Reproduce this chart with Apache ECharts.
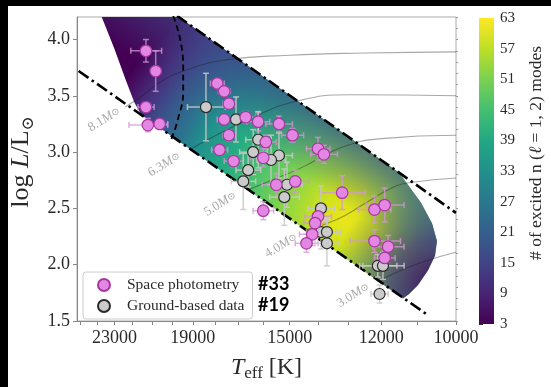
<!DOCTYPE html>
<html>
<head>
<meta charset="utf-8">
<script src="https://cdn.jsdelivr.net/npm/echarts@6/dist/echarts.min.js"></script>
<style>
html, body { margin: 0; padding: 0; background: #fff; }
#chart { width: 551px; height: 387px; }
</style>
</head>
<body>
<div id="chart"></div>
<script>
// rows: Teff [K], log L, err Teff [K], err log L
const spacePhot = [
  [21300, 3.90, 800, 0.10], [20800, 3.72, 250, 0.18], [21300, 3.40, 420, 0.03],
  [21200, 3.24, 1000, 0.06], [20600, 3.25, 400, 0.04], [17900, 3.61, 300, 0.04],
  [17600, 3.54, 250, 0.03], [17400, 3.43, 250, 0.04], [17600, 3.29, 300, 0.04],
  [16700, 3.31, 400, 0.05], [16200, 3.27, 450, 0.08], [15400, 3.25, 500, 0.07],
  [14900, 3.15, 400, 0.06], [17400, 3.15, 250, 0.05], [15900, 3.09, 400, 0.06],
  [17800, 3.02, 350, 0.04], [16000, 2.95, 500, 0.08], [17200, 2.92, 400, 0.05],
  [14000, 3.03, 400, 0.10], [13800, 2.98, 450, 0.08], [14800, 2.74, 500, 0.10],
  [15500, 2.71, 550, 0.10], [13200, 2.64, 720, 0.15], [16000, 2.48, 400, 0.08],
  [12200, 2.49, 480, 0.12], [11900, 2.53, 550, 0.15], [14000, 2.43, 450, 0.10],
  [14100, 2.37, 400, 0.08], [14200, 2.27, 450, 0.10], [14400, 2.19, 400, 0.08],
  [12200, 2.21, 750, 0.10], [11800, 2.16, 450, 0.10], [11900, 2.06, 300, 0.06]
];
const groundData = [
  [18400, 3.40, 850, 0.30], [17100, 3.29, 500, 0.20], [16200, 3.11, 500, 0.25],
  [16400, 3.00, 550, 0.20], [15400, 2.97, 500, 0.20], [15700, 2.93, 550, 0.22],
  [16600, 2.84, 500, 0.15], [16800, 2.74, 500, 0.25], [15100, 2.71, 550, 0.20],
  [15200, 2.60, 550, 0.25], [13900, 2.50, 450, 0.20], [13900, 2.29, 500, 0.15],
  [13700, 2.29, 450, 0.12], [13700, 2.19, 400, 0.20], [12100, 1.99, 550, 0.10],
  [11950, 1.99, 600, 0.12], [12050, 1.74, 250, 0.08]
];

const xLabelTemps = [23000, 19000, 15000, 12000, 10000];
const xTickTemps = [10000, 11000, 12000, 13000, 14000, 15000, 16000, 17000, 18000,
  19000, 20000, 21000, 22000, 23000, 24000, 25000];
const yLabels = [1.5, 2.0, 2.5, 3.0, 3.5, 4.0];
const cbarTicks = [3, 9, 15, 21, 27, 33, 39, 45, 51, 57, 63];

// excited-mode region outline (Teff, log L) and peak of the mode count
const regionEdge = [
  [23750, 4.21], [19740, 4.21], [11490, 2.82], [10890, 2.55], [10600, 2.365],
  [10475, 2.21], [10525, 2.08], [10706, 1.95], [10970, 1.82], [11212, 1.74],
  [11380, 1.70], [21540, 3.33], [21910, 3.44], [22350, 3.63], [23010, 3.92]
];
const regionPeak = [13100, 2.40];
const bumpLow = [10370, 1.80];

const upperEdge = [[19740, 4.21], [10000, 2.46]];
const lowerEdge = [[25100, 3.72], [10700, 1.55]];
const dashedEdge = [[19930, 4.21], [19450, 3.77], [19450, 3.54], [19690, 3.30], [20030, 3.11]];

const track81 = [[22400, 3.40], [21500, 3.50], [20600, 3.62], [19300, 3.73], [17500, 3.82], [15000, 3.86], [12500, 3.88], [10000, 3.89]];
const track63 = [[19070, 3.03], [17950, 3.15], [16480, 3.30], [14950, 3.44], [12920, 3.51], [10000, 3.50]];
const track50 = [[16560, 2.67], [15890, 2.73], [14590, 2.86], [13230, 3.04], [12000, 3.12], [10000, 3.15]];
const track40 = [[14410, 2.31], [13390, 2.40], [12450, 2.55], [11710, 2.68], [11160, 2.73], [10000, 2.77]];
const track30 = [[12100, 1.85], [11570, 1.93], [10890, 2.02], [10000, 2.11]];
const trackMass = ['8.1', '6.3', '5.0', '4.0', '3.0'];
const trackLabelPos = [[23580, 3.29], [20370, 2.89], [17770, 2.54], [15320, 2.17], [12850, 1.73]];

const viridis = ['#440154', '#482475', '#414487', '#355f8d', '#2a788e', '#21918c',
  '#22a884', '#44bf70', '#7ad151', '#bddf26', '#fde725'];

const serif = '"Liberation Serif", "DejaVu Serif", serif';
const log = Math.log10;
const toXY = (p) => [log(p[0]), p[1]];

function errRows(rows) {
  return rows.map((r) => [log(r[0]), r[1], log(r[0] - r[2]), log(r[0] + r[2]), r[1] - r[3], r[1] + r[3]]);
}

function errorBars(color) {
  return function (params, api) {
    const c = api.coord([api.value(0), api.value(1)]);
    const xa = api.coord([api.value(2), api.value(1)])[0];
    const xb = api.coord([api.value(3), api.value(1)])[0];
    const ya = api.coord([api.value(0), api.value(4)])[1];
    const yb = api.coord([api.value(0), api.value(5)])[1];
    const cap = 3;
    const style = { stroke: color, lineWidth: 1.5 };
    const seg = (x1, y1, x2, y2) => ({ type: 'line', shape: { x1, y1, x2, y2 }, style });
    return {
      type: 'group',
      children: [
        seg(xa, c[1], xb, c[1]), seg(c[0], ya, c[0], yb),
        seg(xa, c[1] - cap, xa, c[1] + cap), seg(xb, c[1] - cap, xb, c[1] + cap),
        seg(c[0] - cap, ya, c[0] + cap, ya), seg(c[0] - cap, yb, c[0] + cap, yb)
      ]
    };
  };
}

function renderRegion(params, api) {
  const pts = regionEdge.map((p) => api.coord(toXY(p)));
  const peak = api.coord([api.value(0), api.value(1)]);
  const bump = api.coord(toXY(bumpLow));
  const base = {
    type: 'radial', x: peak[0], y: peak[1], r: 260, global: true,
    colorStops: [
      { offset: 0, color: '#ece51b' }, { offset: 0.1, color: '#d2e21b' },
      { offset: 0.22, color: '#93d741' }, { offset: 0.36, color: '#52c569' },
      { offset: 0.5, color: '#25ac82' }, { offset: 0.63, color: '#21908d' },
      { offset: 0.73, color: '#2f6b8e' }, { offset: 0.81, color: '#3b518b' },
      { offset: 0.89, color: '#472f7d' }, { offset: 1, color: '#440154' }
    ]
  };
  const bumpShade = {
    type: 'radial', x: bump[0], y: bump[1], r: 110, global: true,
    colorStops: [
      { offset: 0, color: 'rgba(68,1,84,0.95)' }, { offset: 0.45, color: 'rgba(70,40,120,0.7)' },
      { offset: 1, color: 'rgba(60,80,140,0)' }
    ]
  };
  const ux = 0.57, uy = -0.82;
  const ex = peak[0] - 45, ey = peak[1] - 45;
  const edgeShade = {
    type: 'linear', x: ex, y: ey, x2: ex + ux * 60, y2: ey + uy * 60, global: true,
    colorStops: [{ offset: 0, color: 'rgba(62,74,137,0)' }, { offset: 1, color: 'rgba(62,74,137,0.65)' }]
  };
  return {
    type: 'group',
    children: [base, bumpShade, edgeShade].map((fill) => ({
      type: 'polygon', shape: { points: pts }, style: { fill: fill }
    }))
  };
}

function trackSeries(data) {
  return {
    type: 'line', data: data.map(toXY), smooth: true, showSymbol: false, silent: true, z: 2,
    lineStyle: { color: 'rgba(25,25,25,0.38)', width: 1.1 }
  };
}

const chart = echarts.init(document.getElementById('chart'));
chart.setOption({
  animation: false,
  backgroundColor: '#fff',
  grid: [
    { left: 77, right: 95, top: 17, bottom: 63, show: true, borderColor: '#aaa', borderWidth: 1 },
    { left: 479, top: 18, width: 15, height: 306 }
  ],
  xAxis: [
    {
      type: 'value', gridIndex: 0, min: log(10000), max: log(25200), inverse: true,
      axisLine: { show: true, lineStyle: { color: '#888' } },
      splitLine: { show: false },
      axisTick: { show: true, length: 4, lineStyle: { color: '#888' }, customValues: xTickTemps.map(log) },
      axisLabel: {
        customValues: xLabelTemps.map(log), formatter: (v) => String(Math.round(Math.pow(10, v))),
        fontFamily: serif, fontSize: 18, color: '#2a2a2a', margin: 8
      },
      name: '{i|T}{s|eff}{a| [K]}', nameLocation: 'middle', nameGap: 33,
      nameTextStyle: {
        rich: {
          i: { fontFamily: serif, fontSize: 24, fontStyle: 'italic', color: '#2a2a2a', lineHeight: 28 },
          s: { fontFamily: serif, fontSize: 17, color: '#2a2a2a', lineHeight: 28, verticalAlign: 'bottom' },
          a: { fontFamily: serif, fontSize: 24, color: '#2a2a2a', lineHeight: 28 }
        }
      }
    },
    { type: 'value', gridIndex: 1, min: 0, max: 1, show: false }
  ],
  yAxis: [
    {
      type: 'value', gridIndex: 0, min: 1.5, max: 4.2,
      axisLine: { show: true, lineStyle: { color: '#888' } },
      splitLine: { show: false },
      axisTick: { show: true, length: 4, lineStyle: { color: '#888' }, customValues: yLabels },
      axisLabel: {
        customValues: yLabels, formatter: (v) => v.toFixed(1),
        fontFamily: serif, fontSize: 18, color: '#2a2a2a', margin: 7
      },
      name: '{a|log }{i|L}{a|/L}{s|⊙}', nameLocation: 'middle', nameGap: 37, nameRotate: 90,
      nameTextStyle: {
        padding: [0, 0, 0, 14],
        rich: {
          i: { fontFamily: serif, fontSize: 26, fontStyle: 'italic', color: '#2a2a2a', lineHeight: 30 },
          s: { fontFamily: serif, fontSize: 17, color: '#2a2a2a', lineHeight: 30, verticalAlign: 'bottom' },
          a: { fontFamily: serif, fontSize: 26, color: '#2a2a2a', lineHeight: 30 }
        }
      }
    },
    {
      type: 'value', gridIndex: 0, min: 1.5, max: 4.2, interval: 0.1,
      axisLine: { show: false }, splitLine: { show: false }, axisLabel: { show: false },
      axisTick: { show: true, length: 2, lineStyle: { color: '#999' } }
    },
    {
      type: 'value', gridIndex: 1, position: 'right', min: cbarTicks[0], max: cbarTicks[cbarTicks.length - 1], interval: 6,
      axisLine: { show: false }, splitLine: { show: false },
      axisTick: { show: true, length: 4, lineStyle: { color: '#333' } },
      axisLabel: { fontFamily: serif, fontSize: 15, color: '#2a2a2a', margin: 6 },
      name: '{a|# of excited n (}{i|ℓ}{a| = 1, 2) modes}', nameLocation: 'middle', nameRotate: 90, nameGap: 33,
      nameTextStyle: {
        padding: [0, 0, 0, 36],
        rich: {
          a: { fontFamily: serif, fontSize: 17.5, color: '#2a2a2a' },
          i: { fontFamily: serif, fontSize: 17.5, fontStyle: 'italic', color: '#2a2a2a' }
        }
      }
    }
  ],
  legend: {
    data: ['Space photometry', 'Ground-based data'],
    orient: 'vertical', left: 83, top: 272, selectedMode: false,
    itemWidth: 12, itemHeight: 12, itemGap: 3,
    padding: [4, 8, 4, 14],
    backgroundColor: '#fff', borderColor: '#ccc', borderWidth: 1, borderRadius: 3,
    textStyle: { fontFamily: serif, fontSize: 15.5, color: '#2a2a2a', lineHeight: 18, padding: [0, 0, 0, 12] }
  },
  graphic: [
    { type: 'rect', left: 0, top: 0, shape: { width: 551, height: 6 }, style: { fill: '#000' }, z: 100 },
    { type: 'rect', left: 0, top: 0, shape: { width: 8, height: 387 }, style: { fill: '#000' }, z: 100 },
    { type: 'text', left: 258, top: 275, style: { text: '#33', font: 'bold 18px Lato, sans-serif', fill: '#000' } },
    { type: 'text', left: 258, top: 296, style: { text: '#19', font: 'bold 18px Lato, sans-serif', fill: '#000' } }
  ],
  series: [
    {
      type: 'custom', data: [toXY(regionPeak)], renderItem: renderRegion, clip: true, silent: true, z: 1
    },
    trackSeries(track81), trackSeries(track63), trackSeries(track50), trackSeries(track40), trackSeries(track30),
    {
      type: 'line', data: upperEdge.map(toXY), showSymbol: false, silent: true, z: 3,
      lineStyle: { color: '#000', width: 2.6, type: [12, 4, 2.5, 4] }
    },
    {
      type: 'line', data: lowerEdge.map(toXY), showSymbol: false, silent: true, z: 3,
      lineStyle: { color: '#000', width: 2.6, type: [12, 4, 2.5, 4] }
    },
    {
      type: 'line', data: dashedEdge.map(toXY), smooth: true, showSymbol: false, silent: true, z: 3,
      lineStyle: { color: '#000', width: 1.8, type: [6, 4] }
    },
    {
      type: 'scatter', data: trackLabelPos.map(toXY), symbolSize: 0, silent: true, z: 3,
      label: {
        show: true, position: 'inside', rotate: 32,
        formatter: (p) => '{n|' + trackMass[p.dataIndex] + '}{m|M}{s|⊙}',
        rich: {
          n: { fontFamily: serif, fontSize: 13, color: '#929292' },
          m: { fontFamily: serif, fontSize: 13, fontStyle: 'italic', color: '#929292' },
          s: { fontFamily: serif, fontSize: 10, color: '#929292' }
        }
      }
    },
    {
      type: 'custom', data: errRows(spacePhot), renderItem: errorBars('rgba(214,150,214,0.75)'),
      encode: { x: 0, y: 1 }, silent: true, z: 4
    },
    {
      type: 'custom', data: errRows(groundData), renderItem: errorBars('rgba(200,200,200,0.85)'),
      encode: { x: 0, y: 1 }, silent: true, z: 4
    },
    {
      name: 'Ground-based data', type: 'scatter', data: groundData.map(toXY), symbolSize: 11, z: 5,
      itemStyle: { color: '#cbcbcb', borderColor: '#2a2a2a', borderWidth: 1.2, opacity: 1 }
    },
    {
      name: 'Space photometry', type: 'scatter', data: spacePhot.map(toXY), symbolSize: 11.5, z: 6,
      itemStyle: { color: '#e487e4', borderColor: '#a8389f', borderWidth: 1.2, opacity: 1 }
    },
    {
      type: 'custom', xAxisIndex: 1, yAxisIndex: 2, silent: true,
      data: [[0, cbarTicks[0], cbarTicks[cbarTicks.length - 1]]],
      renderItem: function (params, api) {
        const a = api.coord([0, api.value(2)]);
        const b = api.coord([1, api.value(1)]);
        return {
          type: 'rect',
          shape: { x: a[0], y: a[1], width: b[0] - a[0], height: b[1] - a[1] },
          style: {
            fill: {
              type: 'linear', x: 0, y: 1, x2: 0, y2: 0,
              colorStops: viridis.map((c, i) => ({ offset: i / (viridis.length - 1), color: c }))
            }
          }
        };
      }
    }
  ]
});
</script>
</body>
</html>
